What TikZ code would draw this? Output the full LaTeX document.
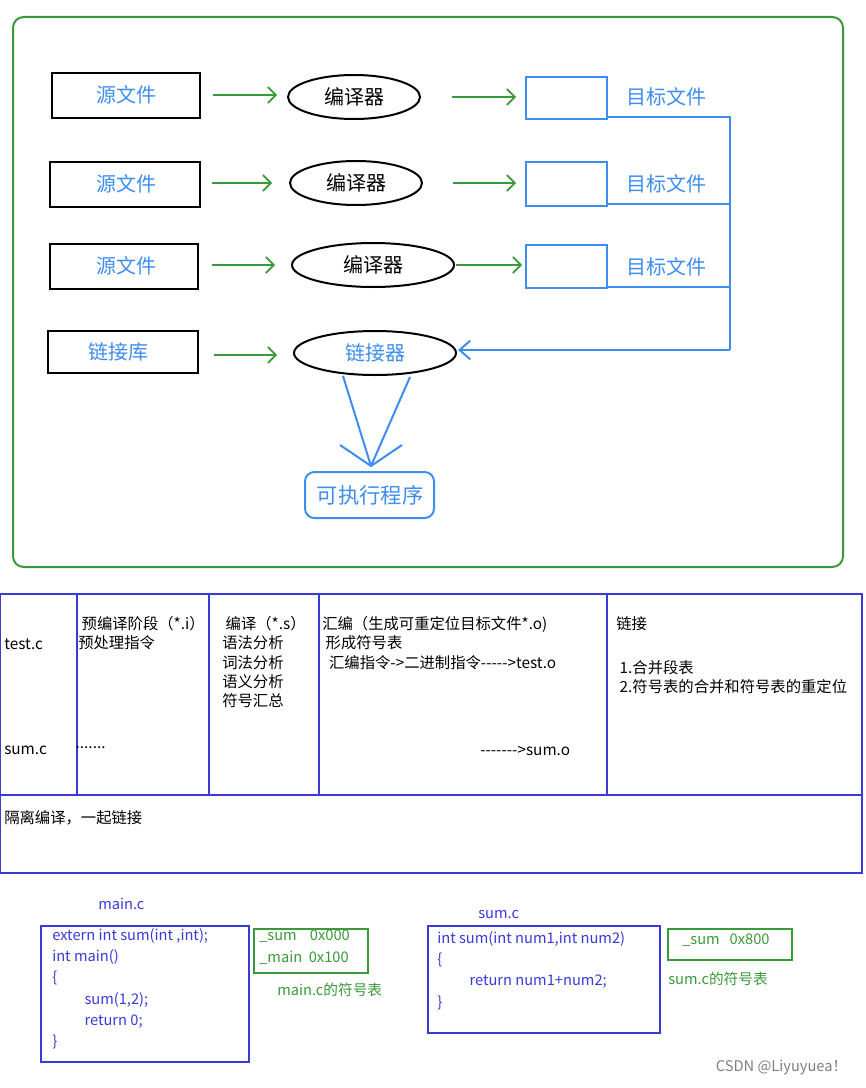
\documentclass[tikz,border=0pt]{standalone}
\usepackage{fontspec}
\setmainfont{Noto Sans CJK SC}[Ligatures=NoCommon]
\usetikzlibrary{arrows.meta}
\definecolor{bl}{HTML}{3D8EF0}
\definecolor{gr}{HTML}{3A9A3A}
\definecolor{tb}{HTML}{3A3ADB}
\newcommand{\dsh}{-{}}
\begin{document}
\begin{tikzpicture}[x=0.75pt,y=-0.75pt,
 src/.style={draw=black,line width=1.5pt,text=bl,font=\fontsize{15}{18}\selectfont},
 tgt/.style={draw=bl,line width=1.5pt},
 garr/.style={draw=gr,line width=1.2pt,-{Straight Barb[length=6pt]}},
 tl/.style={text=bl,font=\fontsize{15}{18}\selectfont,anchor=west},
 tt/.style={font=\fontsize{11.5}{14.5}\selectfont,anchor=north west,align=left,inner sep=0pt},
 code/.style={font=\fontsize{11}{16}\selectfont,anchor=north west,align=left,inner sep=0pt,text=tb}]
\useasboundingbox (0,0) rectangle (865,1088);
\fill[white] (0,0) rectangle (865,1088);
\draw[gr,line width=1.5pt,rounded corners=8pt] (13,17) rectangle (843,567);
% sources
\draw[src] (52,73) rectangle (200,118); \node[text=bl,font=\fontsize{15}{18}\selectfont] (s1) at (126,95) {源文件};
\draw[src] (50,162) rectangle (200,207); \node[text=bl,font=\fontsize{15}{18}\selectfont] (s2) at (126,184) {源文件};
\draw[src] (50,244) rectangle (198,289); \node[text=bl,font=\fontsize{15}{18}\selectfont] (s3) at (126,266) {源文件};
\draw[src] (48,331) rectangle (198,373); \node[text=bl,font=\fontsize{15}{18}\selectfont] (s4) at (118,352) {链接库};
\coordinate (a1s) at (213,95); \coordinate (a1e) at (277,95);
\coordinate (a2s) at (212,183); \coordinate (a2e) at (272,183);
\coordinate (a3s) at (212,265); \coordinate (a3e) at (275,265);
\coordinate (a4s) at (214,355); \coordinate (a4e) at (277,355);
\foreach \i in {1,2,3,4} \draw[garr] (a\i s) -- (a\i e);
% compilers
\draw[line width=1.5pt] (354,97) ellipse (66 and 22); \node[font=\fontsize{15}{17}\selectfont] (c1) at (354,97) {编译器};
\draw[line width=1.5pt] (356,183) ellipse (66 and 22); \node[font=\fontsize{15}{17}\selectfont] (c2) at (356,183) {编译器};
\draw[line width=1.5pt] (373,265) ellipse (81 and 22); \node[font=\fontsize{15}{17}\selectfont] (c3) at (373,265) {编译器};
\draw[line width=1.5pt] (375,353) ellipse (81 and 22); \node[font=\fontsize{15}{17}\selectfont,text=bl] (lk) at (375,353) {链接器};
\coordinate (b1s) at (452,97); \coordinate (b1e) at (516,97);
\coordinate (b2s) at (453,183); \coordinate (b2e) at (516,183);
\coordinate (b3s) at (456,265); \coordinate (b3e) at (522,265);
\foreach \i in {1,2,3} \draw[garr] (b\i s) -- (b\i e);
% targets
\draw[tgt] (526,77) rectangle (607,119); \node[tl] (t1) at (622,97) {目标文件};
\draw[tgt] (526,162) rectangle (607,206); \node[tl] (t2) at (622,184) {目标文件};
\draw[tgt] (526,245) rectangle (607,288); \node[tl] (t3) at (622,267) {目标文件};
\draw[bl,line width=1.5pt] (607,117) -- (730,117) -- (730,350);
\draw[bl,line width=1.5pt] (607,204) -- (730,204);
\draw[bl,line width=1.5pt] (607,287) -- (730,287);
\draw[bl,line width=1.5pt,-{Straight Barb[length=8pt,width=14pt]}] (730,350) -- (458,350);
% to executable
\coordinate (e1) at (343,376); \coordinate (e2) at (410,377); \coordinate (tip) at (371,466);
\draw[bl,line width=1.5pt] (e1) -- (tip) (e2) -- (tip);
\draw[bl,line width=1.5pt] (340,445) -- (tip) -- (402,445);
\draw[bl,line width=1.5pt,rounded corners=7pt] (305,472) rectangle (434,518);
\node[text=bl,font=\fontsize{16}{19}\selectfont] (ex) at (370,495) {可执行程序};
% table
\draw[tb,line width=1pt] (0,594) rectangle (862,873);
\draw[tb,line width=1pt] (0,795) -- (862,795);
\foreach \x in {77,209,319,607} \draw[tb,line width=1pt] (\x,594) -- (\x,795);
\node[tt] (c1a) at (4,639) {test.c};
\node[tt] (c1b) at (4,746) {sum.c};
\node[tt] (c2a) at (78,616) {\ 预编译阶段（*.i）\\预处理指令};
\node[tt] (c2b) at (72,746) {\ .......};
\node[tt] (c3a) at (222,616) {\ 编译（*.s）\\ 语法分析\\词法分析\\语义分析\\符号汇总};
\node[tt] (c4a) at (322,616) {汇编（生成可重定位目标文件*.o)\\ \ 形成符号表\\ \ \ 汇编指令\dsh>二进制指令\dsh\dsh\dsh\dsh\dsh>test.o};
\node[tt] (c4b) at (480,746) {\dsh\dsh\dsh\dsh\dsh\dsh\dsh>sum.o};
\node[tt] (c5a) at (616,616) {链接};
\node[tt] (c5b) at (616,660) {\ 1.合并段表\\ \ 2.符号表的合并和符号表的重定位};
\node[tt] (c6) at (4,810) {隔离编译，一起链接};
% bottom
\node[code] (mc) at (98,898) {main.c};
\draw[tb,line width=0.8pt] (41,926) rectangle (249,1062);
\node[code] (mcode) at (52,928) {extern int sum(int ,int);\\int main()\\\{\\\hspace{2.2em}sum(1,2);\\\hspace{2.2em}return 0;\\\}};
\draw[gr,line width=0.8pt] (254,929) rectangle (368,973);
\node[code,text=gr] (ms) at (259,930) {\_sum\ \ \ \ 0x000\\\_main\ \ 0x100};
\node[code,text=gr] (mst) at (277,983) {main.c的符号表};
\node[code] (sc) at (478,910) {sum.c};
\draw[tb,line width=0.8pt] (428,926) rectangle (660,1033);
\node[code] (scode) at (437,931) {int sum(int num1,int num2)\\\{\\\hspace{2.2em}return num1+num2;\\\}};
\draw[gr,line width=0.8pt] (668,929) rectangle (792,960);
\node[code,text=gr] (ss) at (682,934) {\_sum\ \ \ 0x800};
\node[code,text=gr] (sst) at (668,972) {sum.c的符号表};
\node[font=\fontsize{11}{13}\selectfont,text=gray,anchor=east] (wm) at (852,1068) {CSDN @Liyuyuea！};
\end{tikzpicture}
\end{document}
